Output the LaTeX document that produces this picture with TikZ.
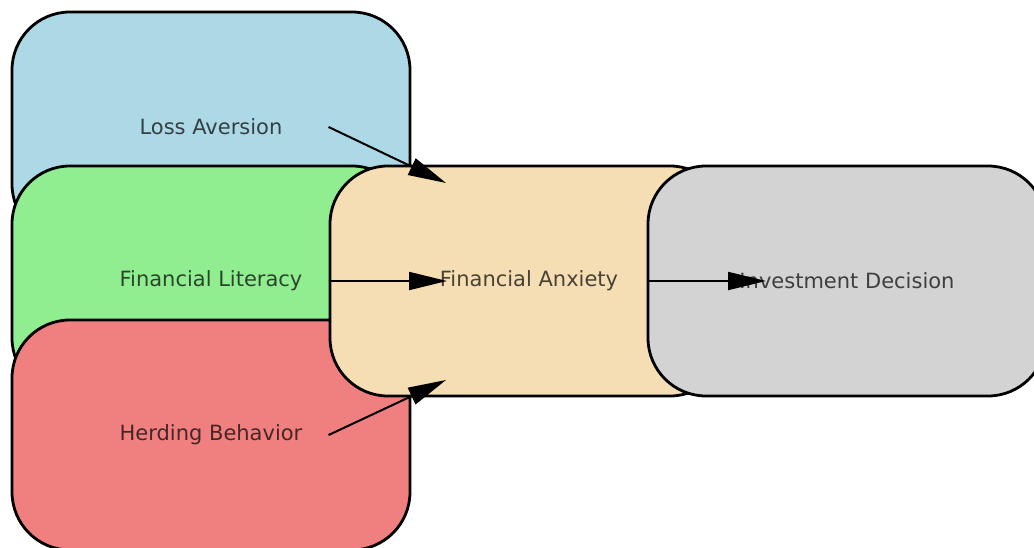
\documentclass[tikz,border=0pt]{standalone}
\usepackage{fontspec}
\setmainfont{DejaVu Sans}
\usetikzlibrary{arrows.meta}

\definecolor{lightblue}{HTML}{ADD8E6}
\definecolor{lightgreen}{HTML}{90EE90}
\definecolor{lightcoral}{HTML}{F08080}
\definecolor{wheat}{HTML}{F5DEB3}
\definecolor{lightgray}{HTML}{D3D3D3}

\begin{document}
\begin{tikzpicture}[x=1pt, y=-1pt,
    block/.style={draw=black, line width=2.8pt, rounded corners=58pt,
        minimum width=398pt, minimum height=230pt, inner sep=0pt,
        text=black, text opacity=0.7, font=\fontsize{21}{24}\selectfont},
    link/.style={line width=2pt, -{Triangle[length=38pt, width=18pt]}}]
            \useasboundingbox (0, 0) rectangle (1034, 548);
            \clip (0, 0) rectangle (1034, 548);
            \node[block, fill=lightblue] (la) at (211, 127) {Loss Aversion};
            \node[block, fill=lightgreen] (fl) at (211, 281) {Financial Literacy};
            \node[block, fill=lightcoral] (hb) at (211, 435) {Herding Behavior};
            \node[block, fill=wheat] (fa) at (529, 281) {Financial Anxiety};
            \node[block, fill=lightgray] (id) at (847, 281) {Investment Decision};
            \coordinate (la-tip) at (446, 183);
            \coordinate (fl-tip) at (447, 281);
            \coordinate (hb-tip) at (446, 380);
            \coordinate (id-tip) at (766, 281);
            \draw[link] (fa.west |- la) -- (la-tip);
            \draw[link] (fa.west) -- (fl-tip);
            \draw[link] (fa.west |- hb) -- (hb-tip);
            \draw[link] (id.west) -- (id-tip);
        \end{tikzpicture}
\end{document}
